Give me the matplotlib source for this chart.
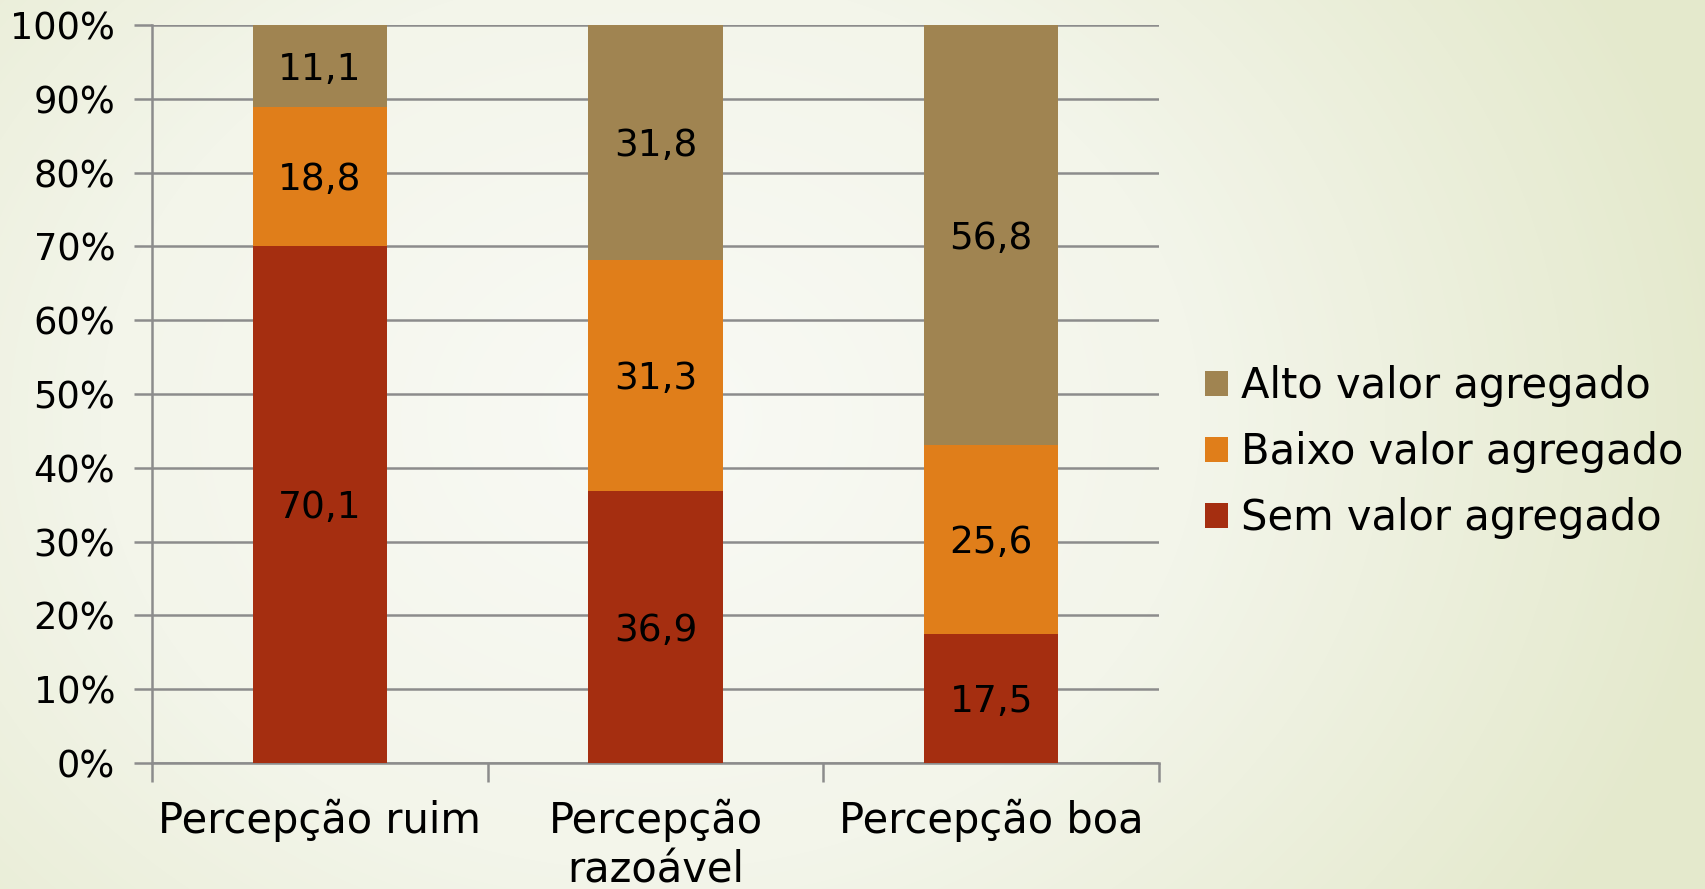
import numpy as np
import matplotlib
matplotlib.use("Agg")
import matplotlib.pyplot as plt
from matplotlib.colors import LinearSegmentedColormap

categories = ["Percepção ruim", "Percepção\nrazoável", "Percepção boa"]
series_names = ["Sem valor agregado", "Baixo valor agregado", "Alto valor agregado"]
sem = [70.1, 36.9, 17.5]
baixo = [18.8, 31.3, 25.6]
alto = [11.1, 31.8, 56.8]
colors = ["#a52e10", "#e07e1a", "#a08451"]
yticks = [0, 10, 20, 30, 40, 50, 60, 70, 80, 90, 100]

plt.rcParams['font.family'] = ['DejaVu Sans']
FS_TICK = 26.5
FS_CAT = 30
FS_DATA = 27
FS_LEG = 30

W, H = 1706, 889
fig = plt.figure(figsize=(W / 100, H / 100), dpi=100)

# background gradient
bg = fig.add_axes([0, 0, 1, 1], zorder=-10)
yy, xx = np.mgrid[0:H, 0:W]
d = np.sqrt(((xx - 650) / 1100.0) ** 2 + ((yy - 420) / 900.0) ** 2)
d = np.clip(d, 0, 1)
cmap = LinearSegmentedColormap.from_list("bgc", ["#f9faf5", "#f3f5ea", "#e4e9cc"])
bg.imshow(d, cmap=cmap, vmin=0, vmax=1, aspect="auto", extent=[0, 1, 0, 1])
bg.axis("off")

ax = fig.add_axes([152 / W, 1 - 763 / H, (1159 - 152) / W, (763 - 25) / H])
ax.patch.set_alpha(0)

data = np.array([sem, baixo, alto])
totals = data.sum(axis=0)
pct = data / totals * 100
x = np.arange(len(categories))
bottom = np.zeros(len(categories))
for i, name in enumerate(series_names):
    ax.bar(x, pct[i], 0.4, bottom=bottom, color=colors[i], label=name, zorder=3)
    for j in range(len(categories)):
        ax.text(x[j], bottom[j] + pct[i][j] / 2, f"{data[i][j]:.1f}".replace(".", ","),
                ha="center", va="center_baseline", fontsize=FS_DATA, color="black", zorder=4)
    bottom += pct[i]

ax.set_xlim(-0.5, 2.5)
ax.set_ylim(0, 100)
ax.set_yticks(yticks)
ax.set_yticklabels([f"{v}%" for v in yticks], fontsize=FS_TICK)
ax.yaxis.grid(True, color="#8c8c8c", linewidth=1.8, zorder=1)
ax.set_axisbelow(True)
ax.set_xticks(x)
ax.set_xticklabels(categories, fontsize=FS_CAT, linespacing=1.22)
ax.tick_params(axis="x", length=0, pad=26)
ax.set_xticks([-0.5, 0.5, 1.5, 2.5], minor=True)
ax.tick_params(axis="x", which="minor", length=14, width=1.8, color="#8c8c8c")
ax.tick_params(axis="y", length=13, width=1.8, color="#8c8c8c", pad=13.5)
for s in ["top", "right"]:
    ax.spines[s].set_visible(False)
for s in ["left", "bottom"]:
    ax.spines[s].set_color("#8c8c8c")
    ax.spines[s].set_linewidth(1.8)

handles, labels = ax.get_legend_handles_labels()
leg = fig.legend(handles[::-1], labels[::-1], loc="center left",
                 bbox_to_anchor=(1205 / W, 1 - 452 / H), frameon=False,
                 fontsize=FS_LEG, handlelength=0.55, handleheight=0.55,
                 handletextpad=0.31, labelspacing=0.58, borderpad=0,
                 borderaxespad=0)

fig.savefig("out.png", dpi=100)
